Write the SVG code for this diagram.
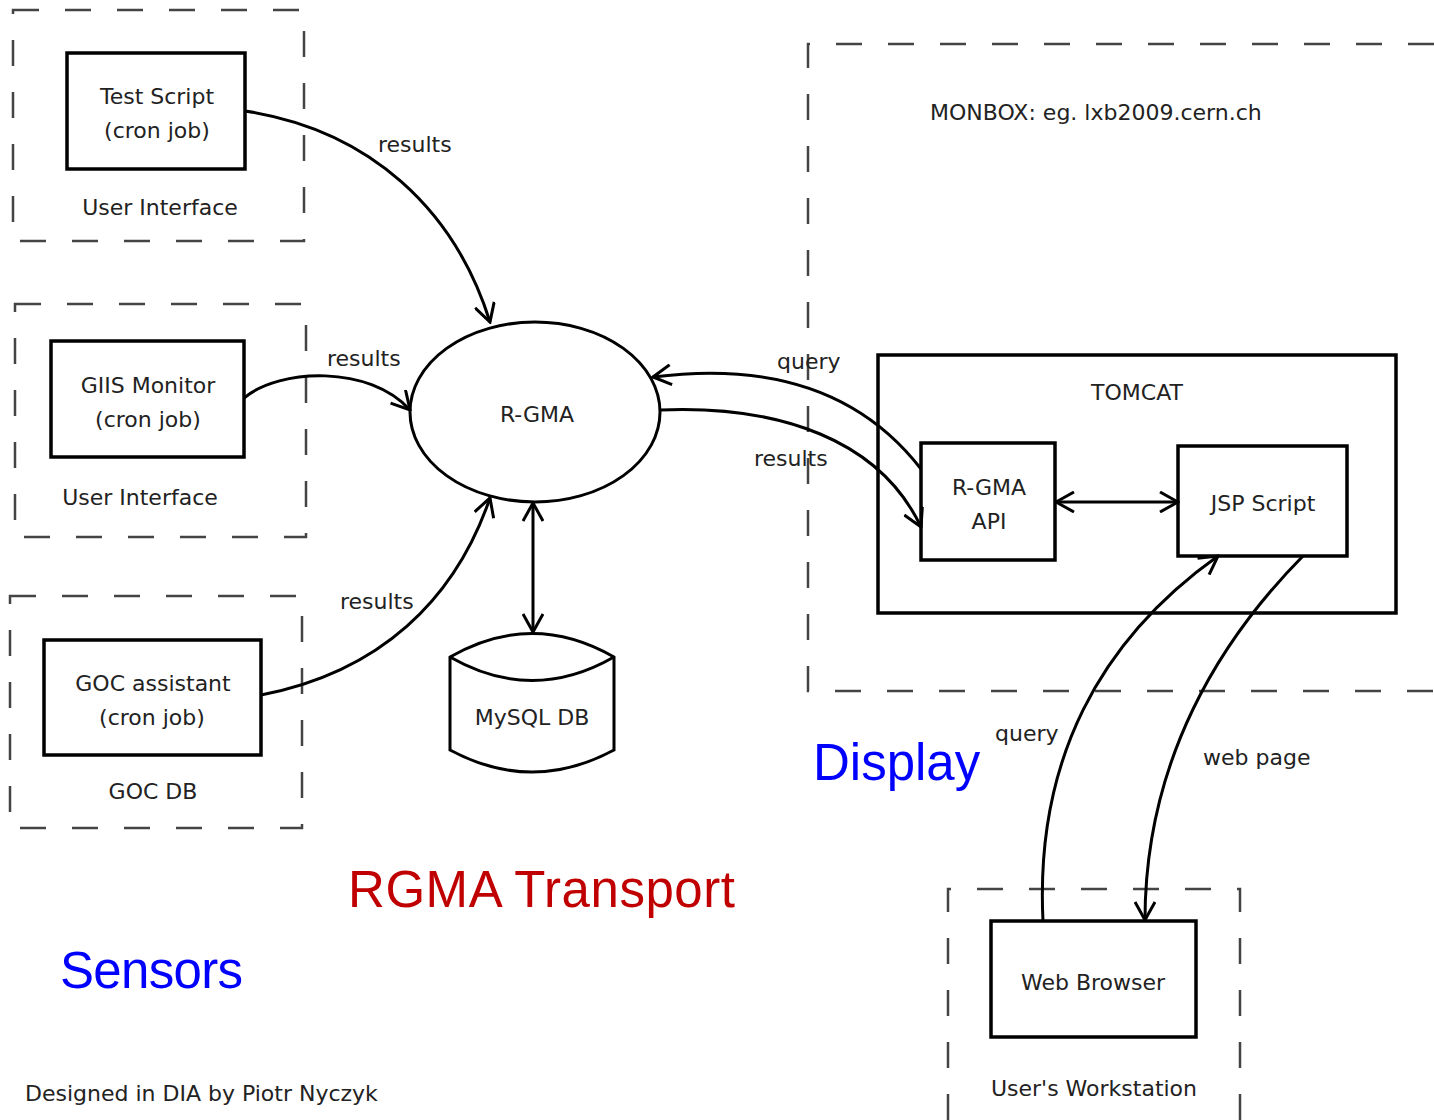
<svg xmlns="http://www.w3.org/2000/svg" width="1434" height="1120" viewBox="0 0 1434 1120">
<style>
.dash{fill:none;stroke:#444;stroke-width:2.5;stroke-dasharray:26 26}
.box{fill:#fff;stroke:#000;stroke-width:3.5}
.t{font-family:"DejaVu Sans",sans-serif;font-size:22px;fill:#222;text-anchor:middle}
.l{font-family:"DejaVu Sans",sans-serif;font-size:22px;fill:#222}
.big{font-family:"Liberation Sans",Arial,sans-serif;font-size:51px}
.c{fill:none;stroke:#000;stroke-width:3}
</style>
<defs>
<marker id="ah" viewBox="0 0 22 22" refX="20" refY="11" markerWidth="22" markerHeight="22" markerUnits="userSpaceOnUse" orient="auto-start-reverse">
<path d="M2,1 L20,11 L2,21" fill="none" stroke="#000" stroke-width="3"/>
</marker>
</defs>
<rect width="1434" height="1120" fill="#fff"/>
<g id="sensor1">
<rect class="dash" x="13" y="10" width="291" height="231"/>
<rect class="box" x="67" y="53" width="178" height="116"/>
<text class="t" x="157" y="104">Test Script</text>
<text class="t" x="157" y="138">(cron job)</text>
<text class="t" x="160" y="215">User Interface</text>
</g>
<g id="sensor2">
<rect class="dash" x="15" y="304" width="291" height="233"/>
<rect class="box" x="51" y="341" width="193" height="116"/>
<text class="t" x="148" y="393">GIIS Monitor</text>
<text class="t" x="148" y="427">(cron job)</text>
<text class="t" x="140" y="505">User Interface</text>
</g>
<g id="sensor3">
<rect class="dash" x="10" y="596" width="292" height="232"/>
<rect class="box" x="44" y="640" width="217" height="115"/>
<text class="t" x="153" y="691">GOC assistant</text>
<text class="t" x="152" y="725">(cron job)</text>
<text class="t" x="153" y="799">GOC DB</text>
</g>
<g id="monbox">
<path class="dash" d="M1434,44 H808 V691 H1434"/>
<text class="l" x="930" y="120">MONBOX: eg. lxb2009.cern.ch</text>
</g>
<g id="tomcat">
<rect class="box" x="878" y="355" width="518" height="258"/>
<text class="t" x="1137" y="400">TOMCAT</text>
</g>
<g id="rgma">
<ellipse cx="535" cy="412" rx="125" ry="90" fill="#fff" stroke="#000" stroke-width="3"/>
<text class="t" x="537" y="422">R-GMA</text>
</g>
<g id="mysql">
<path d="M450,657 Q532,610 614,657 V750 Q532,794 450,750 Z" fill="#fff" stroke="#000" stroke-width="3"/>
<path d="M450,657 Q532,704 614,657" fill="none" stroke="#000" stroke-width="3"/>
<text class="t" x="532" y="725">MySQL DB</text>
</g>
<g id="rgmaapi">
<rect class="box" x="921" y="443" width="134" height="117"/>
<text class="t" x="989" y="495">R-GMA</text>
<text class="t" x="989" y="529">API</text>
</g>
<g id="jsp">
<rect class="box" x="1178" y="446" width="169" height="110"/>
<text class="t" x="1263" y="511">JSP Script</text>
</g>
<g id="workstation">
<path class="dash" d="M948,1120 V889 H1240 V1120"/>
<rect class="box" x="991" y="921" width="205" height="116"/>
<text class="t" x="1093" y="990">Web Browser</text>
<text class="t" x="1094" y="1096">User's Workstation</text>
</g>
<g id="connectors">
<path class="c" d="M245,111 C370,130 455,210 490,322" marker-end="url(#ah)"/>
<path class="c" d="M244,398 C280,368 370,365 410,410" marker-end="url(#ah)"/>
<path class="c" d="M261,695 C380,672 455,600 490,498" marker-end="url(#ah)"/>
<path class="c" d="M533,503 V632" marker-start="url(#ah)" marker-end="url(#ah)"/>
<path class="c" d="M921,469 C860,390 770,362 653,377" marker-end="url(#ah)"/>
<path class="c" d="M660,410 C780,405 880,440 921,527" marker-end="url(#ah)"/>
<path class="c" d="M1056,502 H1178" marker-start="url(#ah)" marker-end="url(#ah)"/>
<path class="c" d="M1043,921 C1035,760 1100,640 1218,556" marker-end="url(#ah)"/>
<path class="c" d="M1303,556 C1220,640 1145,760 1145,920" marker-end="url(#ah)"/>
<text class="l" x="378" y="152">results</text>
<text class="l" x="327" y="366">results</text>
<text class="l" x="340" y="609">results</text>
<text class="l" x="777" y="369">query</text>
<text class="l" x="754" y="466">results</text>
<text class="l" x="995" y="741">query</text>
<text class="l" x="1203" y="765">web page</text>
</g>
<g id="labels">
<text class="big" x="813" y="780" fill="#0000ff">Display</text>
<text class="big" x="348" y="907" fill="#c00000" textLength="387">RGMA Transport</text>
<text class="big" x="60" y="988" fill="#0000ff" textLength="183">Sensors</text>
<text class="l" x="25" y="1101">Designed in DIA by Piotr Nyczyk</text>
</g>
</svg>
